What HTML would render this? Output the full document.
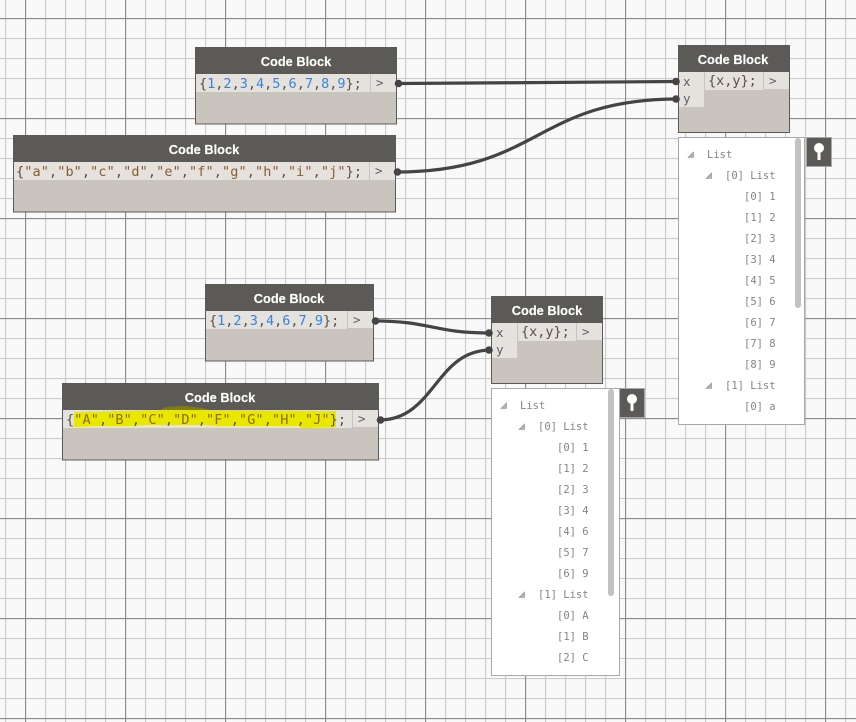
<!DOCTYPE html>
<html><head><meta charset="utf-8"><style>
html,body{margin:0;padding:0;background:#f9f9f9}
svg{display:block}
.t{font:bold 12.8px "Liberation Sans",sans-serif;fill:#fff;text-anchor:middle;stroke:#fff;stroke-width:.15px}
.c{font:13.5px "DejaVu Sans Mono",monospace;fill:#5a5048}
.n{fill:#3584e4}.s{fill:#8a5c32}.h{fill:#8f6a08}
.p{font:12.5px "DejaVu Sans Mono",monospace;fill:#5f5f68}
.l{font:10.5px "DejaVu Sans Mono",monospace;fill:#85857f}
.i{fill:#b4b4b4;stroke:#8a8a8a;stroke-width:.6}
</style></head><body>
<svg xmlns="http://www.w3.org/2000/svg" width="856" height="722" viewBox="0 0 856 722">
<defs>
<pattern id="m" width="20" height="20" patternUnits="userSpaceOnUse" x="5" y="18">
<path d="M0.5 0V20M0 0.5H20" stroke="#cbcbcb" stroke-width="1.3" fill="none"/>
</pattern>
<pattern id="M" width="100" height="100" patternUnits="userSpaceOnUse" x="25" y="18">
<path d="M0.5 0V100M0 0.5H100" stroke="#8c8c8c" stroke-width="1.2" fill="none"/>
</pattern>
</defs>
<rect width="856" height="722" fill="#f9f9f9"/>
<rect width="856" height="722" fill="url(#m)"/>
<rect width="856" height="722" fill="url(#M)"/>

<g fill="none" stroke="#444" stroke-width="3.2">
<path d="M397 83.5 C500 83.5 560 81.5 678 81.5"/>
<path d="M396 172 C540 172 535 99 678 99"/>
<path d="M374 321 C432 321 432 333 491 333"/>
<path d="M379 420 C435 420 435 350 491 350"/>
</g>

<!-- Node 1 -->
<rect x="195.5" y="47.5" width="201" height="76.5" fill="#c9c5be" stroke="#5c5a57"/>
<rect x="195" y="47" width="202" height="27" fill="#5c5a57"/>
<rect x="196" y="74" width="174" height="18" fill="#e5e1dc"/>
<rect x="371" y="74" width="25" height="18" fill="#e5e1dc"/>
<text class="t" x="296" y="66">Code Block</text>
<text class="c" x="199" y="88">{<tspan class="n">1</tspan>,<tspan class="n">2</tspan>,<tspan class="n">3</tspan>,<tspan class="n">4</tspan>,<tspan class="n">5</tspan>,<tspan class="n">6</tspan>,<tspan class="n">7</tspan>,<tspan class="n">8</tspan>,<tspan class="n">9</tspan>};</text>
<text class="p" x="376" y="87">&gt;</text>

<!-- Node 2 -->
<rect x="13.5" y="135.5" width="382" height="76.5" fill="#c9c5be" stroke="#5c5a57"/>
<rect x="13" y="135" width="383" height="27" fill="#5c5a57"/>
<rect x="14" y="162" width="355" height="18" fill="#e5e1dc"/>
<rect x="370" y="162" width="25" height="18" fill="#e5e1dc"/>
<text class="t" x="204" y="154">Code Block</text>
<text class="c" x="16" y="176" textLength="346">{<tspan class="s">"a"</tspan>,<tspan class="s">"b"</tspan>,<tspan class="s">"c"</tspan>,<tspan class="s">"d"</tspan>,<tspan class="s">"e"</tspan>,<tspan class="s">"f"</tspan>,<tspan class="s">"g"</tspan>,<tspan class="s">"h"</tspan>,<tspan class="s">"i"</tspan>,<tspan class="s">"j"</tspan>};</text>
<text class="p" x="375" y="175">&gt;</text>

<!-- Node 3 -->
<rect x="678.5" y="45.5" width="111" height="87" fill="#c9c5be" stroke="#5c5a57"/>
<rect x="678" y="45" width="112" height="27" fill="#5c5a57"/>
<rect x="679" y="72" width="25" height="18" fill="#e5e1dc"/>
<rect x="679" y="90" width="25" height="17" fill="#e5e1dc"/>
<rect x="705" y="72" width="58" height="18" fill="#e5e1dc"/>
<rect x="764" y="72" width="25" height="17" fill="#e5e1dc"/>
<text class="t" x="733" y="64">Code Block</text>
<text class="p" x="683" y="86">x</text><text class="p" x="683" y="103">y</text>
<text class="c" x="708" y="85">{x,y};</text>
<text class="p" x="769" y="85">&gt;</text>

<!-- Panel 1 -->
<rect x="678.5" y="137.5" width="126" height="287" fill="#fff" stroke="#a8a8a8"/>
<rect x="795" y="138" width="6" height="170" rx="3" fill="#c2c2c2"/>
<rect x="806.5" y="137.5" width="25" height="29" fill="#5c5a57" stroke="#a8a8a8"/>
<circle cx="819" cy="148" r="5" fill="#fff"/><rect x="817.5" y="150" width="3" height="10" fill="#fff"/>
<polygon class="i" points="688,157.5 693.5,152 693.5,157.5"/>
<polygon class="i" points="706,178.5 711.5,173 711.5,178.5"/>
<polygon class="i" points="706,388.5 711.5,383 711.5,388.5"/>
<g class="l">
<text x="707" y="158">List</text>
<text x="725" y="179">[0] List</text>
<text x="744" y="200">[0] 1</text>
<text x="744" y="221">[1] 2</text>
<text x="744" y="242">[2] 3</text>
<text x="744" y="263">[3] 4</text>
<text x="744" y="284">[4] 5</text>
<text x="744" y="305">[5] 6</text>
<text x="744" y="326">[6] 7</text>
<text x="744" y="347">[7] 8</text>
<text x="744" y="368">[8] 9</text>
<text x="725" y="389">[1] List</text>
<text x="744" y="410">[0] a</text>
</g>

<!-- Node 4 -->
<rect x="205.5" y="284.5" width="168" height="76.5" fill="#c9c5be" stroke="#5c5a57"/>
<rect x="205" y="284" width="169" height="27" fill="#5c5a57"/>
<rect x="206" y="311" width="141" height="18" fill="#e5e1dc"/>
<rect x="348" y="311" width="25" height="17" fill="#e5e1dc"/>
<text class="t" x="289" y="303">Code Block</text>
<text class="c" x="209" y="325">{<tspan class="n">1</tspan>,<tspan class="n">2</tspan>,<tspan class="n">3</tspan>,<tspan class="n">4</tspan>,<tspan class="n">6</tspan>,<tspan class="n">7</tspan>,<tspan class="n">9</tspan>};</text>
<text class="p" x="353" y="324">&gt;</text>

<!-- Node 5 -->
<rect x="491.5" y="296.5" width="111" height="87" fill="#c9c5be" stroke="#5c5a57"/>
<rect x="491" y="296" width="112" height="27" fill="#5c5a57"/>
<rect x="492" y="323" width="25" height="18" fill="#e5e1dc"/>
<rect x="492" y="341" width="25" height="17" fill="#e5e1dc"/>
<rect x="518" y="323" width="58" height="18" fill="#e5e1dc"/>
<rect x="577" y="323" width="25" height="17" fill="#e5e1dc"/>
<text class="t" x="547" y="315">Code Block</text>
<text class="p" x="496" y="337">x</text><text class="p" x="496" y="354">y</text>
<text class="c" x="521" y="336">{x,y};</text>
<text class="p" x="582" y="336">&gt;</text>

<!-- Panel 2 -->
<rect x="491.5" y="388.5" width="128" height="287" fill="#fff" stroke="#a8a8a8"/>
<rect x="608" y="389" width="6" height="207" rx="3" fill="#c2c2c2"/>
<rect x="619.5" y="388.5" width="25" height="29" fill="#5c5a57" stroke="#a8a8a8"/>
<circle cx="632" cy="399" r="5" fill="#fff"/><rect x="630.5" y="401" width="3" height="10" fill="#fff"/>
<polygon class="i" points="501,408.5 506.5,403 506.5,408.5"/>
<polygon class="i" points="519,429.5 524.5,424 524.5,429.5"/>
<polygon class="i" points="519,597.5 524.5,592 524.5,597.5"/>
<g class="l">
<text x="520" y="409">List</text>
<text x="538" y="430">[0] List</text>
<text x="557" y="451">[0] 1</text>
<text x="557" y="472">[1] 2</text>
<text x="557" y="493">[2] 3</text>
<text x="557" y="514">[3] 4</text>
<text x="557" y="535">[4] 6</text>
<text x="557" y="556">[5] 7</text>
<text x="557" y="577">[6] 9</text>
<text x="538" y="598">[1] List</text>
<text x="557" y="619">[0] A</text>
<text x="557" y="640">[1] B</text>
<text x="557" y="661">[2] C</text>
</g>

<!-- Node 6 -->
<rect x="62.5" y="383.5" width="316" height="76.5" fill="#c9c5be" stroke="#5c5a57"/>
<rect x="62" y="383" width="317" height="27" fill="#5c5a57"/>
<rect x="63" y="410" width="289" height="18" fill="#e5e1dc"/>
<rect x="353" y="410" width="25" height="17" fill="#e5e1dc"/>
<polygon points="160,410 166,407 185,406 203,408 210,410" fill="#807f00"/>
<polygon points="74,412 160,410 210,410 336,411 336,427 300,428 300,426 220,426 205,425 145,425 130,426 95,426 74,427" fill="#e9e600"/>
<text class="t" x="220" y="402">Code Block</text>
<text class="c" x="66" y="424" textLength="280">{<tspan class="h">"A"</tspan>,<tspan class="h">"B"</tspan>,<tspan class="h">"C"</tspan>,<tspan class="h">"D"</tspan>,<tspan class="h">"F"</tspan>,<tspan class="h">"G"</tspan>,<tspan class="h">"H"</tspan>,<tspan class="h">"J"</tspan>};</text>
<text class="p" x="358" y="423">&gt;</text>

<g fill="#444">
<circle cx="398.5" cy="83.5" r="3.8"/><circle cx="397.5" cy="172" r="3.8"/>
<circle cx="375.5" cy="321" r="3.8"/><circle cx="380.5" cy="420" r="3.8"/>
<circle cx="676" cy="81.5" r="3.8"/><circle cx="676" cy="99" r="3.8"/>
<circle cx="489" cy="333" r="3.8"/><circle cx="489" cy="350" r="3.8"/>
</g>
</svg>
</body></html>
